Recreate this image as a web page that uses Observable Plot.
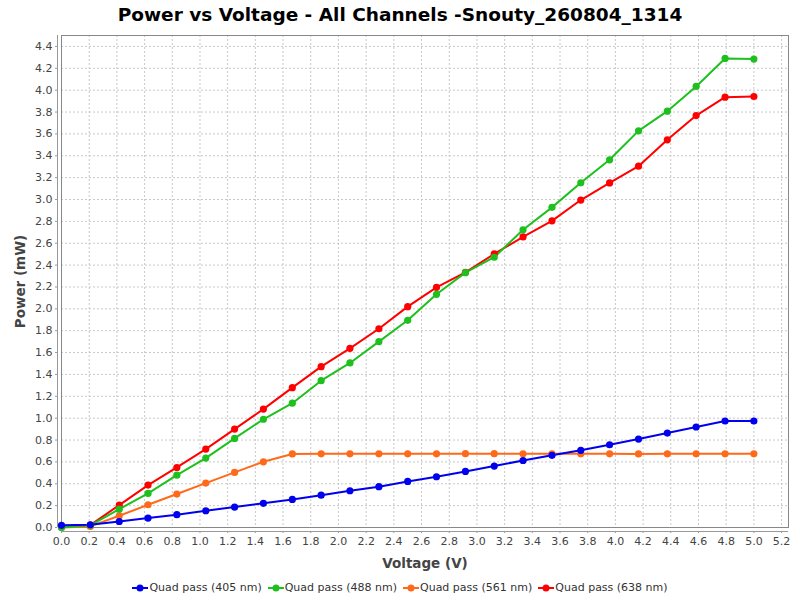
<!DOCTYPE html>
<html>
<head>
<meta charset="utf-8">
<script src="https://cdn.jsdelivr.net/npm/d3@7"></script>
<script src="https://cdn.jsdelivr.net/npm/@observablehq/plot@0.6"></script>
<style>
  html, body { margin: 0; padding: 0; background: #fff; }
  #wrap { width: 800px; height: 600px; position: relative; font-family: "DejaVu Sans", sans-serif; }
  #title { height: 30px; line-height: 29px; text-align: center; font-weight: bold; font-size: 18.5px; color: #000; }
  #legend { height: 26px; line-height: 26px; display: flex; justify-content: center; font-size: 11px; color: #333; }
  .item { display: flex; align-items: center; margin: 0 3px; }
  .item svg { margin-right: 1px; }
  #chart svg { display: block; }
</style>
</head>
<body>
<div id="wrap">
  <div id="title">Power vs Voltage - All Channels -Snouty_260804_1314</div>
  <div id="chart"></div>
  <div id="legend"></div>
</div>
<script>
const voltage = [0, 0.208, 0.417, 0.625, 0.833, 1.042, 1.25, 1.458, 1.667, 1.875, 2.083, 2.292, 2.5, 2.708, 2.917, 3.125, 3.333, 3.542, 3.75, 3.958, 4.167, 4.375, 4.583, 4.792, 5.0];
const p405 = [0.02, 0.025, 0.055, 0.086, 0.117, 0.153, 0.187, 0.221, 0.257, 0.296, 0.336, 0.373, 0.421, 0.464, 0.513, 0.562, 0.613, 0.66, 0.706, 0.757, 0.809, 0.864, 0.919, 0.974, 0.974];
const p488 = [0.0, 0.02, 0.168, 0.312, 0.479, 0.635, 0.815, 0.99, 1.137, 1.343, 1.505, 1.70, 1.895, 2.133, 2.331, 2.472, 2.723, 2.928, 3.153, 3.363, 3.628, 3.808, 4.034, 4.29, 4.284];
const p561 = [0.0, 0.01, 0.107, 0.208, 0.306, 0.406, 0.504, 0.601, 0.673, 0.674, 0.674, 0.674, 0.674, 0.674, 0.675, 0.675, 0.674, 0.674, 0.674, 0.674, 0.673, 0.674, 0.674, 0.674, 0.674];
const p638 = [0.01, 0.022, 0.205, 0.388, 0.549, 0.717, 0.9, 1.083, 1.279, 1.471, 1.639, 1.818, 2.02, 2.197, 2.334, 2.502, 2.658, 2.805, 2.995, 3.152, 3.305, 3.546, 3.768, 3.936, 3.942];
const seriesNames = ["Quad pass (405 nm)", "Quad pass (488 nm)", "Quad pass (561 nm)", "Quad pass (638 nm)"];
const seriesColors = ["#0000ee", "#1ec01e", "#ff6a1a", "#ff0000"];
const xTicks = [0.0, 0.2, 0.4, 0.6, 0.8, 1.0, 1.2, 1.4, 1.6, 1.8, 2.0, 2.2, 2.4, 2.6, 2.8, 3.0, 3.2, 3.4, 3.6, 3.8, 4.0, 4.2, 4.4, 4.6, 4.8, 5.0, 5.2];
const yTicks = [0.0, 0.2, 0.4, 0.6, 0.8, 1.0, 1.2, 1.4, 1.6, 1.8, 2.0, 2.2, 2.4, 2.6, 2.8, 3.0, 3.2, 3.4, 3.6, 3.8, 4.0, 4.2, 4.4];

const allSeries = [p405, p488, p561, p638];
// rows; draw in reverse order so 405 nm sits on top (as in the reference)
const rows = [];
for (let s = allSeries.length - 1; s >= 0; s--) {
  voltage.forEach((v, i) => rows.push({series: seriesNames[s], v, p: allSeries[s][i]}));
}

const fmt = d3.format(".1f");
const chart = Plot.plot({
  width: 800,
  height: 545,
  marginTop: 5,
  marginBottom: 48,
  marginLeft: 61,
  marginRight: 12,
  style: { fontFamily: "DejaVu Sans, sans-serif", fontSize: "11px", color: "#444", background: "#fff" },
  x: { domain: [0, 5.25], label: null },
  y: { domain: [0, 4.5], label: null },
  color: { domain: seriesNames, range: seriesColors },
  marks: [
    Plot.gridX(xTicks, { stroke: "#c8c8c8", strokeOpacity: 1, strokeDasharray: "2,2" }),
    Plot.gridY(yTicks, { stroke: "#c8c8c8", strokeOpacity: 1, strokeDasharray: "2,2" }),
    Plot.frame({ stroke: "#888" }),
    Plot.ruleX([0], { dx: -4, stroke: "#999" }),
    Plot.ruleY([0], { dy: 4, stroke: "#999" }),
    Plot.axisX(xTicks, { tickSize: 2, tickPadding: 4, dy: 4, tickFormat: fmt, label: null, stroke: "#999", fill: "#444" }),
    Plot.axisY(yTicks, { tickSize: 2, tickPadding: 3, dx: -4, tickFormat: fmt, label: null, stroke: "#999", fill: "#444" }),
    Plot.line(rows, { x: "v", y: "p", z: "series", stroke: "series", strokeWidth: 2 }),
    Plot.dot(rows, { x: "v", y: "p", fill: "series", r: 3.6 }),
    Plot.text(["Voltage (V)"], { frameAnchor: "bottom", textAnchor: "middle", lineAnchor: "middle", dy: 36, fontWeight: "bold", fontSize: 13.5, fill: "#444" }),
    Plot.text(["Power (mW)"], { frameAnchor: "left", textAnchor: "middle", lineAnchor: "middle", rotate: -90, dx: -41, fontWeight: "bold", fontSize: 13.5, fill: "#444" })
  ]
});
document.getElementById("chart").appendChild(chart);

const legend = document.getElementById("legend");
seriesNames.forEach((name, i) => {
  const item = document.createElement("div");
  item.className = "item";
  const c = seriesColors[i];
  item.innerHTML = `<svg width="16" height="10"><line x1="0" x2="16" y1="5" y2="5" stroke="${c}" stroke-width="2"/><circle cx="8" cy="5" r="3.5" fill="${c}"/></svg><span>${name}</span>`;
  legend.appendChild(item);
});
</script>
</body>
</html>
